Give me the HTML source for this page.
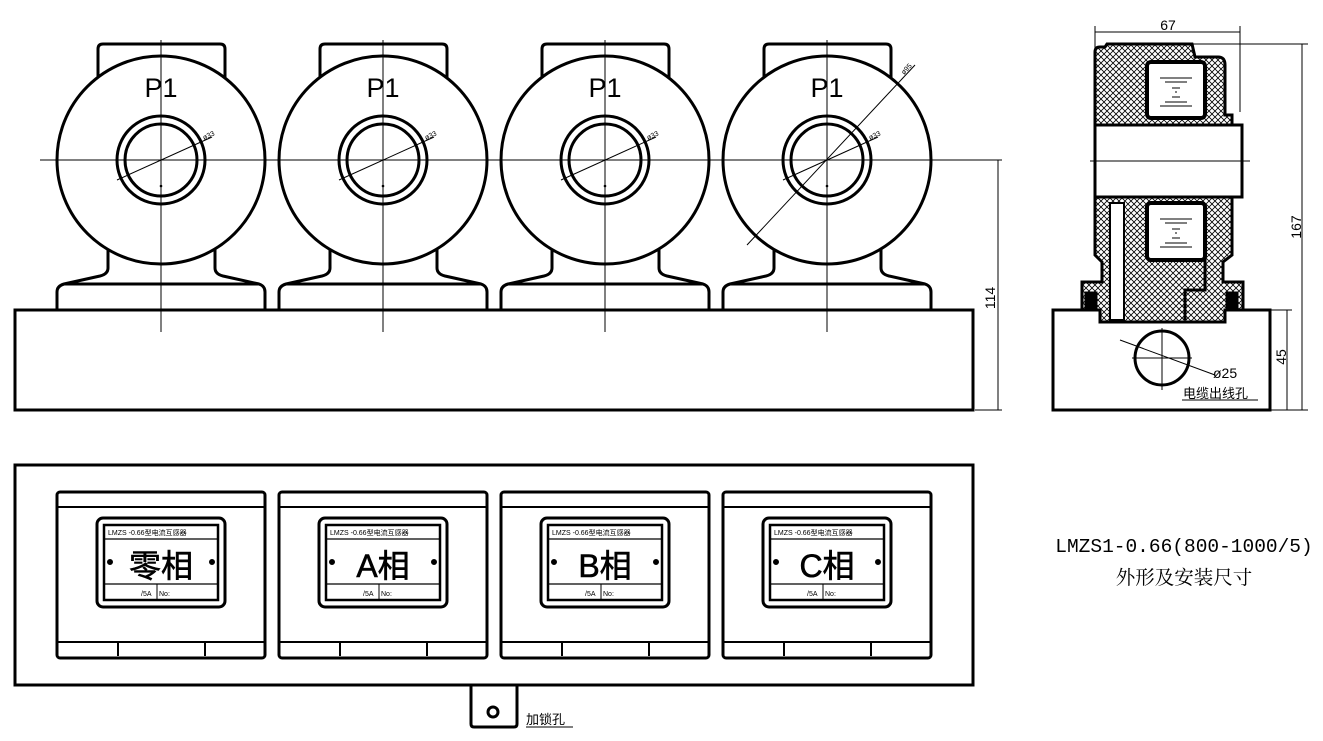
<!DOCTYPE html>
<html><head><meta charset="utf-8"><style>
html,body{margin:0;padding:0;background:#fff;}
svg{display:block;}
</style></head><body>
<svg width="1323" height="741" viewBox="0 0 1323 741" xmlns="http://www.w3.org/2000/svg">
<defs>
<pattern id="hx" width="6" height="6" patternUnits="userSpaceOnUse">
<rect width="6" height="6" fill="#fff"/>
<path d="M0 0L6 6M6 0L0 6" stroke="#000" stroke-width="0.8"/>
</pattern>
<g id="unit" fill="none" stroke="#000">
<path d="M98 90 V49 Q98 44 103 44 H220 Q225 44 225 49 V90" stroke-width="3"/>
<path d="M108 240 V268 Q108 274 100 276 L64 284 Q57 286 57 292 V310 M215 240 V268 Q215 274 223 276 L259 284 Q265 286 265 292 V310" stroke-width="3"/>
<path d="M64 284 H259" stroke-width="3"/>
<circle cx="161" cy="160" r="104" fill="#fff" stroke-width="3"/>
<circle cx="161" cy="160" r="44" stroke-width="3"/>
<circle cx="161" cy="160" r="36" stroke-width="3"/>
<line x1="161" y1="40" x2="161" y2="332" stroke-width="1"/>
<line x1="117" y1="180" x2="212" y2="137" stroke-width="1"/>
<circle cx="161" cy="186" r="0.8" fill="#000"/>
</g>
<g id="panel" fill="none" stroke="#000">
<rect x="57" y="492" width="208" height="166" rx="3" stroke-width="3"/>
<line x1="57" y1="507" x2="265" y2="507" stroke-width="2"/>
<line x1="57" y1="642" x2="265" y2="642" stroke-width="2"/>
<path d="M118 642 V656 M205 642 V656" stroke-width="2"/>
<rect x="97" y="518" width="128" height="89" rx="6" stroke-width="3"/>
<rect x="104" y="525" width="114" height="75" stroke-width="2.5"/>
<line x1="104" y1="539" x2="218" y2="539" stroke-width="1.2"/>
<line x1="104" y1="584" x2="218" y2="584" stroke-width="1.2"/>
<line x1="157" y1="584" x2="157" y2="600" stroke-width="1"/>
<circle cx="110" cy="562" r="2.5" fill="#000"/>
<circle cx="212" cy="562" r="2.5" fill="#000"/>
</g>
</defs>

<rect x="15" y="310" width="958" height="100" fill="none" stroke="#000" stroke-width="3"/>
<use href="#unit"/>
<use href="#unit" x="222"/>
<use href="#unit" x="444"/>
<use href="#unit" x="666"/>
<line x1="40" y1="160" x2="1002" y2="160" stroke="#000" stroke-width="1"/>
<line x1="747" y1="245" x2="915" y2="65" stroke="#000" stroke-width="1"/>
<line x1="998" y1="160" x2="998" y2="410" stroke="#000" stroke-width="1"/>
<line x1="975" y1="410" x2="1002" y2="410" stroke="#000" stroke-width="1"/>
<g font-family="Liberation Sans, sans-serif" font-size="27" fill="#000" text-anchor="middle">
<text x="161" y="97">P1</text><text x="383" y="97">P1</text><text x="605" y="97">P1</text><text x="827" y="97">P1</text>
</g>
<g font-family="Liberation Sans, sans-serif" font-size="7" fill="#000">
<text x="204" y="140" transform="rotate(-24 204 140)">ø33</text>
<text x="426" y="140" transform="rotate(-24 426 140)">ø33</text>
<text x="648" y="140" transform="rotate(-24 648 140)">ø33</text>
<text x="870" y="140" transform="rotate(-24 870 140)">ø33</text>
<text x="904" y="75" transform="rotate(-47 904 75)">ø95</text>
</g>
<text x="995" y="298" font-family="Liberation Sans, sans-serif" font-size="14" transform="rotate(-90 995 298)" text-anchor="middle">114</text>

<g stroke="#000" fill="none">
<rect x="1053" y="310" width="217" height="100" stroke-width="3"/>
<path d="M1095 112 V52 Q1095 47 1100 47 L1105 47 L1107 44 H1192 L1195 57 H1218 Q1225 57 1225 65 V115 H1232 V125 H1095 Z" fill="url(#hx)" stroke-width="3"/>
<rect x="1095" y="125" width="147" height="72" fill="#fff" stroke-width="3"/>
<path d="M1095 197 H1232 V255 L1223 262 V282 H1243 V310 H1225 V322 H1100 V310 H1082 V282 H1102 V262 L1095 255 Z" fill="url(#hx)" stroke-width="3"/>
<rect x="1147" y="62" width="58" height="56" rx="4" fill="#fff" stroke-width="4"/>
<rect x="1147" y="203" width="58" height="57" rx="4" fill="#fff" stroke-width="4"/>
<rect x="1110" y="203" width="14" height="117" fill="#fff" stroke-width="2"/>
<path d="M1160 78 H1192 M1165 82 H1187 M1172 88 H1180 M1175 92 H1177 M1172 97 H1180 M1165 102 H1187 M1160 106 H1192" stroke-width="1"/>
<path d="M1160 219 H1192 M1165 223 H1187 M1172 229 H1180 M1175 233 H1177 M1172 238 H1180 M1165 243 H1187 M1160 247 H1192" stroke-width="1"/>
<rect x="1085" y="292" width="12" height="16" fill="#000"/>
<rect x="1226" y="292" width="12" height="16" fill="#000"/>
<path d="M1205 245 V290 H1185 V320" stroke-width="3"/>
<line x1="1090" y1="161" x2="1250" y2="161" stroke-width="1"/>
<circle cx="1162" cy="358" r="27" fill="#fff" stroke-width="3"/>
<line x1="1162" y1="328" x2="1162" y2="390" stroke-width="1"/>
<line x1="1132" y1="358" x2="1192" y2="358" stroke-width="1"/>
<line x1="1120" y1="340" x2="1215" y2="375" stroke-width="1"/>
<line x1="1095" y1="26" x2="1095" y2="110" stroke-width="1"/>
<line x1="1240" y1="26" x2="1240" y2="112" stroke-width="1"/>
<line x1="1095" y1="32" x2="1240" y2="32" stroke-width="1"/>
<line x1="1192" y1="44" x2="1308" y2="44" stroke-width="1"/>
<line x1="1302" y1="44" x2="1302" y2="410" stroke-width="1"/>
<line x1="1270" y1="410" x2="1308" y2="410" stroke-width="1"/>
<line x1="1287" y1="310" x2="1287" y2="410" stroke-width="1"/>
<line x1="1270" y1="310" x2="1292" y2="310" stroke-width="1"/>
<line x1="1182" y1="400" x2="1258" y2="400" stroke-width="1"/>
</g>
<g font-family="Liberation Sans, sans-serif" font-size="14" fill="#000">
<text x="1168" y="30" text-anchor="middle">67</text>
<text x="1301" y="227" text-anchor="middle" transform="rotate(-90 1301 227)">167</text>
<text x="1286" y="357" text-anchor="middle" transform="rotate(-90 1286 357)">45</text>
<text x="1213" y="378">ø25</text>
</g>
<text x="1183" y="398" font-family="Liberation Sans, 'Noto Sans CJK SC', sans-serif" font-size="13">电缆出线孔</text>

<rect x="15" y="465" width="958" height="220" fill="none" stroke="#000" stroke-width="3"/>
<use href="#panel"/>
<use href="#panel" x="222"/>
<use href="#panel" x="444"/>
<use href="#panel" x="666"/>
<g font-family="Liberation Sans, 'Noto Sans CJK SC', sans-serif" fill="#000">
<g font-size="7">
<text x="108" y="535">LMZS -0.66型电流互感器</text>
<text x="330" y="535">LMZS -0.66型电流互感器</text>
<text x="552" y="535">LMZS -0.66型电流互感器</text>
<text x="774" y="535">LMZS -0.66型电流互感器</text>
<text x="141" y="596">/5A</text><text x="159" y="596">No:</text>
<text x="363" y="596">/5A</text><text x="381" y="596">No:</text>
<text x="585" y="596">/5A</text><text x="603" y="596">No:</text>
<text x="807" y="596">/5A</text><text x="825" y="596">No:</text>
</g>
<g font-size="32" text-anchor="middle" stroke="#000" stroke-width="0.6">
<text x="161" y="577">零相</text>
<text x="383" y="577">A相</text>
<text x="605" y="577">B相</text>
<text x="827" y="577">C相</text>
</g>
</g>
<path d="M471 685 V724 Q471 727 474 727 H514 Q517 727 517 724 V685" fill="none" stroke="#000" stroke-width="3"/>
<circle cx="493" cy="712" r="5" fill="none" stroke="#000" stroke-width="3"/>
<text x="526" y="724" font-family="Liberation Sans, 'Noto Sans CJK SC', sans-serif" font-size="13">加锁孔</text>
<line x1="526" y1="727" x2="573" y2="727" stroke="#000" stroke-width="1"/>

<g font-family="'Liberation Mono', 'Noto Serif CJK SC', serif" font-size="19.5" fill="#000" text-anchor="middle">
<text x="1184" y="552">LMZS1-0.66(800-1000/5)</text>
<text x="1184" y="584">外形及安装尺寸</text>
</g>
</svg>
</body></html>
